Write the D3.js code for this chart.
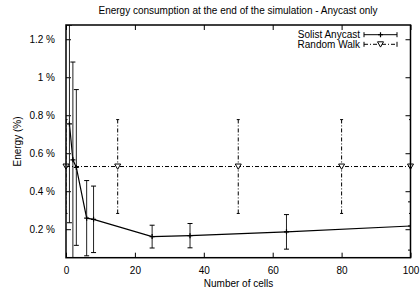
<!DOCTYPE html>
<html>
<head>
<meta charset="utf-8">
<script src="https://cdn.jsdelivr.net/npm/d3@7"></script>
<style>
  html, body { margin: 0; padding: 0; background: #fff; }
  svg { display: block; font-family: "Liberation Sans", Arial, sans-serif; }
</style>
</head>
<body>
<svg id="chart" width="420" height="295"></svg>
<script>
// ---- data ----
const solistX   = [1, 2, 3, 6, 8, 25, 36, 64, 100];
const solistY   = [0.754, 0.565, 0.525, 0.258, 0.252, 0.161, 0.166, 0.186, 0.217];
const solistErr = [0.52, 0.515, 0.41, 0.198, 0.175, 0.06, 0.064, 0.091, 0.127];

const walkX   = [0, 15, 50, 80, 100];
const walkY   = [0.53, 0.53, 0.53, 0.53, 0.53];
const walkErr = [0.247, 0.247, 0.247, 0.247, 0.247];

const xTicks = [0, 20, 40, 60, 80, 100];
const yTicks = [0.2, 0.4, 0.6, 0.8, 1.0, 1.2];
const yTickLabels = ["0.2 %", "0.4 %", "0.6 %", "0.8 %", "1 %", "1.2 %"];

const seriesNames = ["Solist Anycast", "Random Walk"];
const titleText = "Energy consumption at the end of the simulation - Anycast only";
const xLabel = "Number of cells";
const yLabel = "Energy (%)";

// ---- layout ----
const L = 66, R = 410.5, T = 25, B = 257.7;
const svg = d3.select("#chart");
const x = d3.scaleLinear().domain([0, 100]).range([L, R]);
const y = d3.scaleLinear().domain([0.05, 1.275]).range([B, T]);

svg.append("defs").append("clipPath").attr("id", "clip")
  .append("rect").attr("x", L).attr("y", T).attr("width", R - L).attr("height", B - T);

const fs = 10;
// title
svg.append("text").attr("x", 238).attr("y", 14).attr("text-anchor", "middle")
  .attr("font-size", fs).text(titleText);

// axes
const tickLen = 5;
const xb = svg.append("g").attr("transform", `translate(0,${B})`)
  .call(d3.axisBottom(x).tickValues(xTicks).tickSizeInner(-tickLen).tickSizeOuter(0).tickPadding(9).tickFormat(d3.format("d")));
const xt = svg.append("g").attr("transform", `translate(0,${T})`)
  .call(d3.axisTop(x).tickValues(xTicks).tickSizeInner(-tickLen).tickSizeOuter(0).tickFormat(""));
const yl = svg.append("g").attr("transform", `translate(${L},0)`)
  .call(d3.axisLeft(y).tickValues(yTicks).tickSizeInner(-tickLen).tickSizeOuter(0).tickPadding(11)
    .tickFormat((d, i) => yTickLabels[i]));
const yr = svg.append("g").attr("transform", `translate(${R},0)`)
  .call(d3.axisRight(y).tickValues(yTicks).tickSizeInner(-tickLen).tickSizeOuter(0).tickFormat(""));
[xb, xt, yl, yr].forEach(g => {
  g.select(".domain").remove();
  g.selectAll("line").attr("stroke", "#000").attr("stroke-width", 1);
  g.selectAll("text").attr("font-size", fs).attr("fill", "#000")
    .attr("font-family", "Liberation Sans, Arial, sans-serif");
});

// axis labels
svg.append("text").attr("x", 238.5).attr("y", 287).attr("text-anchor", "middle")
  .attr("font-size", fs).text(xLabel);
svg.append("text").attr("transform", `translate(21,141.5) rotate(-90)`).attr("text-anchor", "middle")
  .attr("font-size", fs).text(yLabel);

const plot = svg.append("g").attr("clip-path", "url(#clip)");
const dashDot = "4,2,1,2";

// Solist Anycast
const sData = solistX.map((d, i) => ({ x: d, y: solistY[i], e: solistErr[i] }));
plot.append("path").datum(sData)
  .attr("d", d3.line().x(d => x(d.x)).y(d => y(d.y)))
  .attr("fill", "none").attr("stroke", "#000").attr("stroke-width", 1.2);
const sg = plot.selectAll(".s").data(sData).enter().append("g");
sg.append("line").attr("x1", d => x(d.x)).attr("x2", d => x(d.x))
  .attr("y1", d => y(d.y - d.e)).attr("y2", d => y(d.y + d.e))
  .attr("stroke", "#222").attr("stroke-width", 1);
sg.append("line").attr("x1", d => x(d.x) - 2.5).attr("x2", d => x(d.x) + 2.5)
  .attr("y1", d => y(d.y - d.e)).attr("y2", d => y(d.y - d.e)).attr("stroke", "#000");
sg.append("line").attr("x1", d => x(d.x) - 2.5).attr("x2", d => x(d.x) + 2.5)
  .attr("y1", d => y(d.y + d.e)).attr("y2", d => y(d.y + d.e)).attr("stroke", "#000");
sg.append("path").attr("d", d => `M${x(d.x) - 2.5},${y(d.y)}H${x(d.x) + 2.5}M${x(d.x)},${y(d.y) - 2.5}V${y(d.y) + 2.5}`)
  .attr("stroke", "#000").attr("stroke-width", 1.2);

// Random Walk
const wData = walkX.map((d, i) => ({ x: d, y: walkY[i], e: walkErr[i] }));
plot.append("path").datum(wData)
  .attr("d", d3.line().x(d => x(d.x)).y(d => y(d.y)))
  .attr("fill", "none").attr("stroke", "#000").attr("stroke-width", 1).attr("stroke-dasharray", dashDot);
const wg = plot.selectAll(".w").data(wData).enter().append("g");
wg.append("line").attr("x1", d => x(d.x)).attr("x2", d => x(d.x))
  .attr("y1", d => y(d.y - d.e)).attr("y2", d => y(d.y + d.e))
  .attr("stroke", "#000").attr("stroke-width", 1).attr("stroke-dasharray", dashDot);
wg.append("line").attr("x1", d => x(d.x) - 1.5).attr("x2", d => x(d.x) + 1.5)
  .attr("y1", d => y(d.y - d.e)).attr("y2", d => y(d.y - d.e)).attr("stroke", "#000");
wg.append("line").attr("x1", d => x(d.x) - 1.5).attr("x2", d => x(d.x) + 1.5)
  .attr("y1", d => y(d.y + d.e)).attr("y2", d => y(d.y + d.e)).attr("stroke", "#000");
const tri = (cx, cy) => `M${cx - 3},${cy - 2.5}L${cx + 3},${cy - 2.5}L${cx},${cy + 2.8}Z`;
svg.selectAll(".wm").data(wData).enter().append("path")
  .attr("d", d => tri(x(d.x), y(d.y))).attr("fill", "#fff").attr("stroke", "#000").attr("stroke-width", 1);

// frame
svg.append("rect").attr("x", L).attr("y", T).attr("width", R - L).attr("height", B - T)
  .attr("fill", "none").attr("stroke", "#000").attr("stroke-width", 1.5);

// legend
const legY = [34.7, 44.3];
const lx1 = 364, lx2 = 397, lxm = (lx1 + lx2) / 2;
seriesNames.forEach((name, i) => {
  svg.append("text").attr("x", 360).attr("y", legY[i] + 3.5).attr("text-anchor", "end")
    .attr("font-size", fs).text(name);
  const g = svg.append("g");
  g.append("line").attr("x1", lx1).attr("x2", lx2).attr("y1", legY[i]).attr("y2", legY[i])
    .attr("stroke", "#000").attr("stroke-width", 1).attr("stroke-dasharray", i === 1 ? dashDot : null);
  [lx1, lx2].forEach(xx => g.append("line").attr("x1", xx).attr("x2", xx)
    .attr("y1", legY[i] - 2.5).attr("y2", legY[i] + 2.5).attr("stroke", "#000"));
  if (i === 0) {
    g.append("path").attr("d", `M${lxm - 2.5},${legY[i]}H${lxm + 2.5}M${lxm},${legY[i] - 2.5}V${legY[i] + 2.5}`)
      .attr("stroke", "#000").attr("stroke-width", 1.2);
  } else {
    g.append("path").attr("d", tri(lxm, legY[i])).attr("fill", "#fff").attr("stroke", "#000");
  }
});
</script>
</body>
</html>
